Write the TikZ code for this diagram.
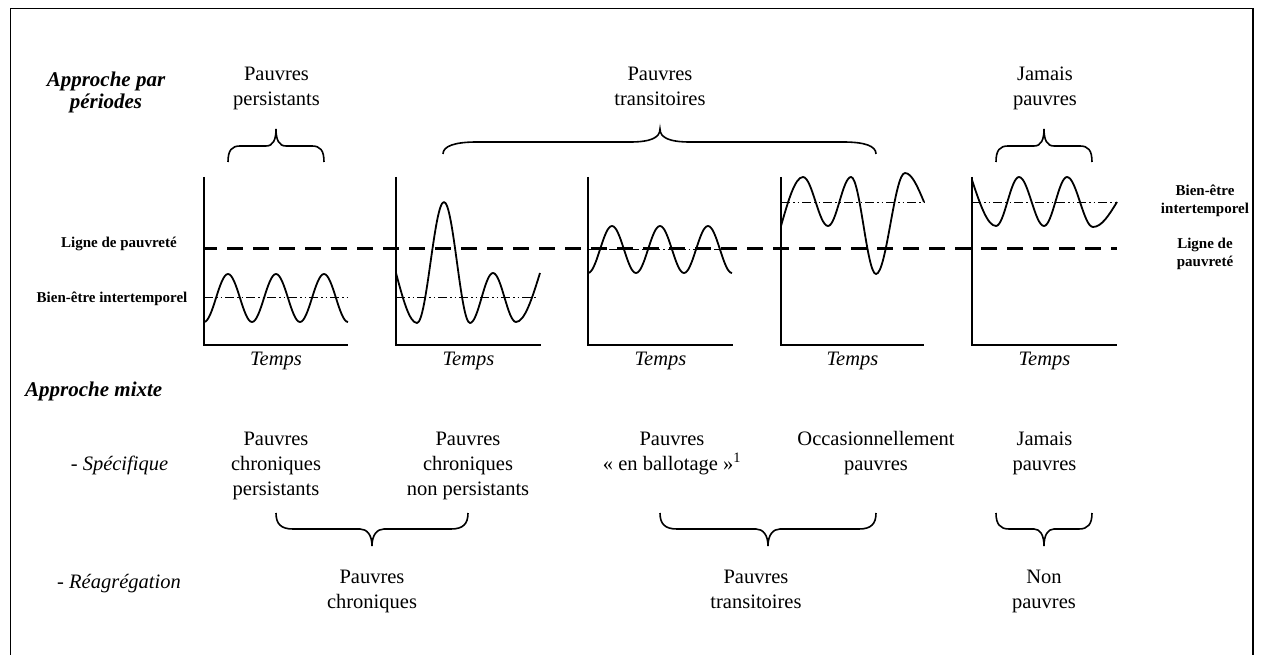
\documentclass[tikz,border=0pt]{standalone}
\usepackage{fontspec}
\setmainfont{Liberation Serif}
\newcommand\mystack[1]{\begin{tabular}[t]{@{}c@{}}#1\end{tabular}}
\begin{document}
\begin{tikzpicture}[x=1pt,y=-1pt,
  frame/.style={line width=1.6pt},
  axis/.style={line width=1.8pt},
  curve/.style={line width=1.8pt, line join=round},
  pline/.style={line width=3pt, dash pattern=on 16pt off 10pt, dash phase=3pt},
  iline/.style={line width=0.9pt, dash pattern=on 9pt off 3pt on 1.5pt off 3pt on 1.5pt off 3pt},
  brace/.style={line width=1.6pt},
  reg/.style={anchor=base, inner sep=0pt, font=\fontsize{20.5}{25}\selectfont},
  side/.style={anchor=base, inner sep=0pt, font=\fontsize{15}{18}\selectfont\bfseries},
  head/.style={anchor=base, inner sep=0pt, font=\fontsize{21}{22}\selectfont\bfseries\itshape},
  tps/.style={anchor=base, inner sep=0pt, font=\fontsize{20.5}{25}\selectfont\itshape},
]
\useasboundingbox (0,0) rectangle (1262,655);
% frame
\draw[frame] (10.5,655) -- (10.5,8.5) -- (1253,8.5) -- (1253,655);

% headings
\node[head] (hper) at (106,87) {\mystack{Approche par\\périodes}};
\node[head, anchor=base west] (hmix) at (25,396) {Approche mixte};

% top labels
\node[reg] (tpp) at (276.5,80.5) {\mystack{Pauvres\\persistants}};
\node[reg] (tpt) at (660,80.5) {\mystack{Pauvres\\transitoires}};
\node[reg] (tjp) at (1045,80.5) {\mystack{Jamais\\pauvres}};

% top braces
\draw[brace] (228,162) .. controls (228,150) and (232,146) .. (240,146) -- (266,146)
  .. controls (273,146) and (276,140) .. (276,129) .. controls (276,140) and (279,146) .. (286,146)
  -- (312,146) .. controls (320,146) and (324,150) .. (324,162);
\draw[brace] (443,154) .. controls (443,146) and (455,142) .. (477,142) -- (630,142)
  .. controls (650,142) and (660,138) .. (660,129) .. controls (660,138) and (670,142) .. (690,142)
  -- (843,142) .. controls (865,142) and (876,146) .. (876,154);
\draw[brace] (996,162) .. controls (996,150) and (1000,146) .. (1008,146) -- (1034,146)
  .. controls (1041,146) and (1044,140) .. (1044,129) .. controls (1044,140) and (1047,146) .. (1054,146)
  -- (1080,146) .. controls (1088,146) and (1092,150) .. (1092,162);

% side labels
\node[side] (lpl) at (119,248) {Ligne de pauvreté};
\node[side] (lbe) at (112,302.5) {Bien-être intertemporel};
\node[side] (rbe) at (1205,196) {\mystack{Bien-être\\intertemporel}};
\node[side] (rlp) at (1205,249) {\mystack{Ligne de\\pauvreté}};

% poverty line
\draw[pline] (204,249) -- (1117,249);

% intertemporal lines
\draw[iline] (204,297) -- (347,297);
\draw[iline] (396,297) -- (538,297);
\draw[iline] (588,249) -- (732,249);
\draw[iline] (781,202) -- (924,202);
\draw[iline] (972,202) -- (1117,202);

% axes
\draw[axis] (204,177) -- (204,345) -- (348,345);
\draw[axis] (396,177) -- (396,345) -- (541,345);
\draw[axis] (588,177) -- (588,345) -- (733,345);
\draw[axis] (781,177) -- (781,345) -- (924,345);
\draw[axis] (972,177) -- (972,345) -- (1117,345);

% curves
\draw[curve] plot[domain=0:144, samples=97, smooth] ({204+\x},{298+24*cos(7.5*\x)});
\draw[curve] (396,273) sin (417,323) cos (430.5,262.5) sin (444,202) cos (457,262.5) sin (470,323)
  cos (481.5,298) sin (493,273) cos (504.5,297.5) sin (516,322) cos (540,273);
\draw[curve] plot[domain=0:144, samples=97, smooth] ({588+\x},{249.5+23.5*cos(7.5*\x)});
\draw[curve] (781,226) sin (803,177) cos (815.5,201.5) sin (828,226) cos (839.5,201.5) sin (851,177)
  cos (863.5,225.5) sin (876,274) cos (890.5,223.5) sin (905,173) cos (924,202);
\draw[curve] (972,180) sin (996,226) cos (1007.5,201.5) sin (1019,177) cos (1031.5,201.5) sin (1044,226)
  cos (1055.5,201.5) sin (1067,177) cos (1080,202) sin (1093,227) cos (1117,202);

% Temps
\node[tps] (tm1) at (276,366) {Temps};
\node[tps] (tm2) at (468.5,366) {Temps};
\node[tps] (tm3) at (660.5,366) {Temps};
\node[tps] (tm4) at (852.5,366) {Temps};
\node[tps] (tm5) at (1044.5,366) {Temps};

% mixed approach
\node[reg] (spec) at (119.5,470) {- \textit{Spécifique}};
\node[reg] (reag) at (119,588) {- \textit{Réagrégation}};

\node[reg] (cp) at (276,445) {\mystack{Pauvres\\chroniques\\persistants}};
\node[reg] (cnp) at (468,445) {\mystack{Pauvres\\chroniques\\non persistants}};
\node[reg] (bal) at (672,445) {\mystack{Pauvres\\«~en ballotage~»\textsuperscript{1}}};
\node[reg] (occ) at (876,445) {\mystack{Occasionnellement\\pauvres}};
\node[reg] (jam) at (1044.5,445) {\mystack{Jamais\\pauvres}};

% bottom braces
\draw[brace] (276,513) .. controls (276,524) and (281,529) .. (293,529) -- (360,529)
  .. controls (367,529) and (372,535) .. (372,546) .. controls (372,535) and (377,529) .. (384,529)
  -- (451,529) .. controls (463,529) and (468,524) .. (468,513);
\draw[brace] (660,513) .. controls (660,524) and (665,529) .. (677,529) -- (756,529)
  .. controls (763,529) and (768,535) .. (768,546) .. controls (768,535) and (773,529) .. (780,529)
  -- (859,529) .. controls (871,529) and (876,524) .. (876,513);
\draw[brace] (996,513) .. controls (996,524) and (1000,529) .. (1009,529) -- (1034,529)
  .. controls (1040,529) and (1044,535) .. (1044,546) .. controls (1044,535) and (1048,529) .. (1054,529)
  -- (1079,529) .. controls (1088,529) and (1092,524) .. (1092,513);

\node[reg] (rc) at (372,583) {\mystack{Pauvres\\chroniques}};
\node[reg] (rt) at (756,583) {\mystack{Pauvres\\transitoires}};
\node[reg] (rn) at (1044,583) {\mystack{Non\\pauvres}};
\end{tikzpicture}
\end{document}
